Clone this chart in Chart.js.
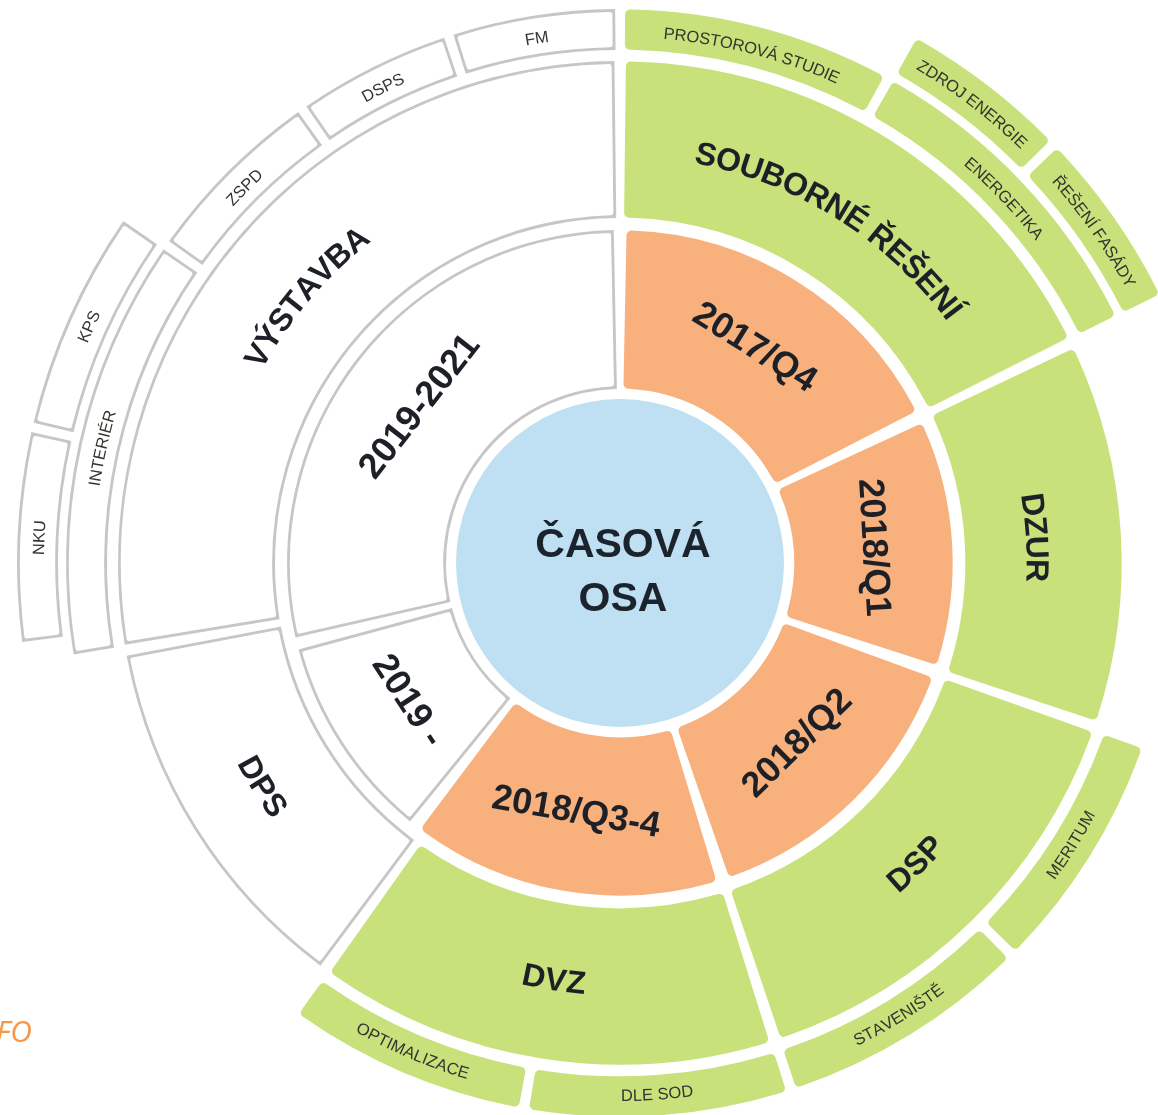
<!DOCTYPE html>
<html>
<head>
<meta charset="utf-8">
<title>Časová osa</title>
<script src="https://cdn.jsdelivr.net/npm/chart.js@4.4.1/dist/chart.umd.min.js"></script>
<style>
  html, body { margin: 0; padding: 0; background: #fff; overflow: hidden; }
  #wrap { position: relative; width: 1158px; height: 1115px; }
  #chart { position: absolute; left: 0; top: 0; }
  #note { position: absolute; left: -4px; top: 1016px; font: italic 30px/29px "Open Sans", sans-serif; color: #f79646; }
</style>
</head>
<body>
<div id="wrap">
  <canvas id="chart" width="1158" height="1115"></canvas>
  <div id="note">FO</div>
</div>
<script>
// Center of the wheel
const centerLines = ['ČASOVÁ', 'OSA'];

// Inner ring: time periods, span in degrees clockwise from 12 o'clock
const periodLabels = ['2017/Q4', '2018/Q1', '2018/Q2', '2018/Q3-4', '2019 -', '2019-2021'];
const periodSpans = [64, 45, 53, 56, 38, 104];
const periodActive = [true, true, true, true, false, false];

// Middle ring: project phases
const phaseLabels = ['SOUBORNÉ ŘEŠENÍ', 'DZUR', 'DSP', 'DVZ', 'DPS', 'VÝSTAVBA'];
const phaseSpans = [64, 45, 53, 54, 44, 100];
const phaseActive = [true, true, true, true, false, false];

// Outer ring: tasks ('' = nothing in that span)
const taskLabels = ['PROSTOROVÁ STUDIE', 'ENERGETIKA', '', 'MERITUM', 'STAVENIŠTĚ', 'DLE SOD', 'OPTIMALIZACE', '', 'INTERIÉR', 'ZSPD', 'DSPS', 'FM'];
const taskSpans = [29, 35, 45, 26, 27, 28, 26, 44, 45, 20, 17, 18];
const taskActive = [true, true, false, true, true, true, true, false, false, false, false, false];

// Outermost ring: sub-tasks
const extraLabels = ['', 'ZDROJ ENERGIE', 'ŘEŠENÍ FASÁDY', '', 'NKU', 'KPS', ''];
const extraSpans = [29, 17, 18, 198, 21, 22, 55];
const extraActive = [false, true, true, false, false, false, false];

// ---- styling / layout ----
const colors = {
  orange: '#f8b07d',
  green: '#c9e17b',
  blue: '#bee0f2',
  outline: '#c6c6c6',
  none: 'rgba(0,0,0,0)'
};
const FONT = '"Liberation Sans", Arial, Helvetica, sans-serif';
const GAP_PX = 10;       // white gap between segments
const RADIUS = 603;      // outer radius of the whole wheel
// ring thicknesses from outside in (px); spacer rings leave the white gaps
const ringPlan = [
  { name: 'extra', size: 41 },
  { spacer: 8 },
  { name: 'task', size: 41 },
  { spacer: 11 },
  { name: 'phase', size: 157 },
  { spacer: 12 },
  { name: 'period', size: 159 },
  { spacer: 10 },
  { name: 'center', size: 164 }
];
const labelStyle = {
  period: { font: 'bold 36px ' + FONT, color: '#1d2127', curved: false, shift: 0 },
  phase: { font: 'bold 32px ' + FONT, color: '#1d2127', curved: true, shift: -8 },
  task: { font: '16.5px ' + FONT, color: '#33362f', curved: true, shift: -3 },
  extra: { font: '16.5px ' + FONT, color: '#33362f', curved: true, shift: -2 }
};

const ringSource = {
  extra: [extraLabels, extraSpans, extraActive, colors.green],
  task: [taskLabels, taskSpans, taskActive, colors.green],
  phase: [phaseLabels, phaseSpans, phaseActive, colors.green],
  period: [periodLabels, periodSpans, periodActive, colors.orange]
};

function ringDataset(name, midR, weight) {
  const [labels, spans, active, onColor] = ringSource[name];
  const gapDeg = GAP_PX / midR * 180 / Math.PI;
  const ds = { data: [], backgroundColor: [], borderColor: [], borderWidth: [], segLabels: [],
    borderAlign: 'inner', borderRadius: 5, weight: weight, ring: name };
  const add = (v, fill, stroke, w, txt) => {
    ds.data.push(v); ds.backgroundColor.push(fill); ds.borderColor.push(stroke);
    ds.borderWidth.push(w); ds.segLabels.push(txt);
  };
  spans.forEach((span, i) => {
    if (!labels[i]) { add(span, colors.none, colors.none, 0, null); return; }
    add(gapDeg / 2, colors.none, colors.none, 0, null);
    if (active[i]) add(span - gapDeg, onColor, onColor, 0, labels[i]);
    else add(span - gapDeg, '#ffffff', colors.outline, 2.5, labels[i]);
    add(gapDeg / 2, colors.none, colors.none, 0, null);
  });
  return ds;
}

const datasets = [];
let r = RADIUS;
ringPlan.forEach(ring => {
  if (ring.spacer) {
    datasets.push({ data: [360], backgroundColor: colors.none, borderWidth: 0, weight: ring.spacer });
    r -= ring.spacer;
  } else if (ring.name === 'center') {
    datasets.push({ data: [360], backgroundColor: colors.blue, borderWidth: 0, weight: ring.size, ring: 'center' });
  } else {
    datasets.push(ringDataset(ring.name, r - ring.size / 2, ring.size));
    r -= ring.size;
  }
});

function drawCurved(ctx, text, cx, cy, rad, mid, flip) {
  const total = ctx.measureText(text).width;
  let a = flip ? mid + total / 2 / rad : mid - total / 2 / rad;
  for (const ch of text) {
    const w = ctx.measureText(ch).width;
    const ac = flip ? a - w / 2 / rad : a + w / 2 / rad;
    ctx.save();
    ctx.translate(cx + rad * Math.cos(ac), cy + rad * Math.sin(ac));
    ctx.rotate(flip ? ac - Math.PI / 2 : ac + Math.PI / 2);
    ctx.fillText(ch, 0, 0);
    ctx.restore();
    a = flip ? a - w / rad : a + w / rad;
  }
}

const ringLabels = {
  id: 'ringLabels',
  afterDatasetsDraw(chart) {
    const ctx = chart.ctx;
    ctx.save();
    ctx.textAlign = 'center';
    ctx.textBaseline = 'middle';
    chart.data.datasets.forEach((ds, di) => {
      const meta = chart.getDatasetMeta(di);
      if (ds.ring === 'center') {
        const c = meta.data[0];
        ctx.fillStyle = '#1b232c';
        ctx.font = 'bold 41px ' + FONT;
        ctx.fillText(centerLines[0], c.x + 3, c.y - 17);
        ctx.fillText(centerLines[1], c.x + 3, c.y + 37);
        return;
      }
      if (!ds.segLabels) return;
      const st = labelStyle[ds.ring];
      ctx.font = st.font;
      ctx.fillStyle = st.color;
      meta.data.forEach((arc, j) => {
        const text = ds.segLabels[j];
        if (!text) return;
        const mid = (arc.startAngle + arc.endAngle) / 2;
        const flip = Math.sin(mid) > 0.05;
        const rad = (arc.innerRadius + arc.outerRadius) / 2 + (flip ? 0 : st.shift);
        if (st.curved) {
          drawCurved(ctx, text, arc.x, arc.y, rad, mid, flip);
        } else {
          ctx.save();
          ctx.translate(arc.x + rad * Math.cos(mid), arc.y + rad * Math.sin(mid));
          ctx.rotate(flip ? mid - Math.PI / 2 : mid + Math.PI / 2);
          ctx.fillText(text, 0, 0);
          ctx.restore();
        }
      });
    });
    ctx.restore();
  }
};

new Chart(document.getElementById('chart').getContext('2d'), {
  type: 'doughnut',
  data: { datasets },
  options: {
    responsive: false,
    animation: false,
    events: [],
    radius: RADIUS,
    cutout: 0,
    layout: { padding: { left: 82, right: 0, top: 11, bottom: 0 } },
    plugins: { legend: { display: false }, tooltip: { enabled: false } }
  },
  plugins: [ringLabels]
});
</script>
</body>
</html>
